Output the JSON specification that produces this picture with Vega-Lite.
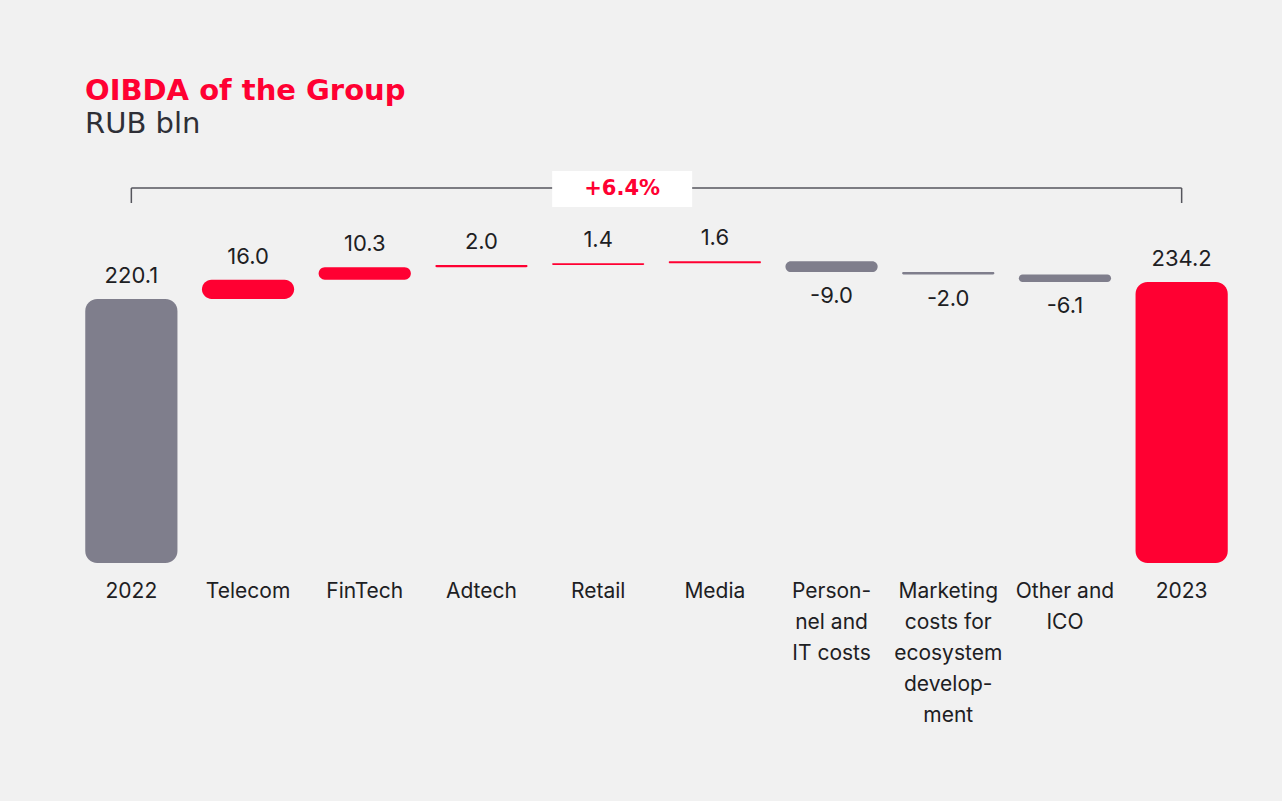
{
  "$schema": "https://vega.github.io/schema/vega-lite/v6.json",
  "autosize": "none",
  "width": 1167,
  "height": 408,
  "padding": {"left": 73, "top": 155, "right": 42, "bottom": 238},
  "background": "#f1f1f1",
  "config": {
    "view": {"stroke": null},
    "font": "Inter",
    "text": {"font": "Inter"}
  },
  "title": {
    "text": "OIBDA of the Group",
    "subtitle": "RUB bln",
    "anchor": "start",
    "frame": "group",
    "dx": 12,
    "offset": 16,
    "font": "DejaVu Sans",
    "fontSize": 29,
    "fontWeight": "bold",
    "color": "#ff0032",
    "subtitleFont": "DejaVu Sans",
    "subtitleFontSize": 29,
    "subtitleFontWeight": "normal",
    "subtitleColor": "#2e2f36",
    "subtitlePadding": 4
  },
  "data": {
    "values": [
      {"category": "2022", "start": 0, "end": 220.1, "label": "220.1", "kind": "start"},
      {"category": "Telecom", "start": 220.1, "end": 236.1, "label": "16.0", "kind": "increase"},
      {"category": "FinTech", "start": 236.1, "end": 246.4, "label": "10.3", "kind": "increase"},
      {"category": "Adtech", "start": 246.4, "end": 248.4, "label": "2.0", "kind": "increase"},
      {"category": "Retail", "start": 248.4, "end": 249.8, "label": "1.4", "kind": "increase"},
      {"category": "Media", "start": 249.8, "end": 251.4, "label": "1.6", "kind": "increase"},
      {"category": "Person-|nel and|IT costs", "start": 251.4, "end": 242.4, "label": "-9.0", "kind": "decrease"},
      {"category": "Marketing|costs for|ecosystem|develop-|ment", "start": 242.4, "end": 240.4, "label": "-2.0", "kind": "decrease"},
      {"category": "Other and|ICO", "start": 240.4, "end": 234.2, "label": "-6.1", "kind": "decrease"},
      {"category": "2023", "start": 0, "end": 234.2, "label": "234.2", "kind": "end"}
    ]
  },
  "encoding": {
    "x": {
      "field": "category",
      "type": "nominal",
      "sort": null,
      "scale": {"paddingInner": 0.21, "paddingOuter": 0.105},
      "axis": {
        "title": null,
        "domain": false,
        "ticks": false,
        "labelAngle": 0,
        "labelFont": "Inter",
        "labelFontSize": 21,
        "labelColor": "#1d2023",
        "labelLineHeight": 31,
        "labelPadding": 17,
        "labelExpr": "split(datum.value, '|')",
        "grid": false
      }
    }
  },
  "layer": [
    {
      "mark": {"type": "bar", "cornerRadius": 12},
      "encoding": {
        "y": {"field": "start", "type": "quantitative", "scale": {"domain": [0, 340], "nice": false}, "axis": null},
        "y2": {"field": "end"},
        "color": {
          "field": "kind",
          "type": "nominal",
          "scale": {"domain": ["start", "increase", "decrease", "end"], "range": ["#7f7e8c", "#ff0032", "#7f7e8c", "#ff0032"]},
          "legend": null
        }
      }
    },
    {
      "transform": [{"filter": "datum.kind != 'decrease'"}],
      "mark": {"type": "text", "baseline": "middle", "dy": -23, "fontSize": 22, "color": "#1d2023", "font": "Inter"},
      "encoding": {
        "y": {"field": "end", "type": "quantitative"},
        "text": {"field": "label"}
      }
    },
    {
      "transform": [{"filter": "datum.kind == 'decrease'"}],
      "mark": {"type": "text", "baseline": "middle", "dy": 24, "fontSize": 22, "color": "#1d2023", "font": "Inter"},
      "encoding": {
        "y": {"field": "end", "type": "quantitative"},
        "text": {"field": "label"}
      }
    },
    {
      "data": {"values": [{"from": "2022", "to": "2023", "change": "+6.4%", "at": "Retail"}]},
      "layer": [
        {
          "mark": {"type": "rule", "stroke": "#55555c", "strokeWidth": 1.5},
          "encoding": {
            "x": {"field": "from", "type": "nominal"},
            "x2": {"field": "to"},
            "y": {"datum": 312.5, "type": "quantitative"}
          }
        },
        {
          "mark": {"type": "rule", "stroke": "#55555c", "strokeWidth": 1.5},
          "encoding": {
            "x": {"field": "from", "type": "nominal"},
            "y": {"datum": 312.5, "type": "quantitative"},
            "y2": {"datum": 300}
          }
        },
        {
          "mark": {"type": "rule", "stroke": "#55555c", "strokeWidth": 1.5},
          "encoding": {
            "x": {"field": "to", "type": "nominal"},
            "y": {"datum": 312.5, "type": "quantitative"},
            "y2": {"datum": 300}
          }
        },
        {
          "mark": {"type": "bar", "color": "#ffffff", "width": 140, "xOffset": 24},
          "encoding": {
            "x": {"field": "at", "type": "nominal"},
            "y": {"datum": 296.7, "type": "quantitative"},
            "y2": {"datum": 326.7}
          }
        },
        {
          "mark": {"type": "text", "baseline": "middle", "dx": 24, "fontSize": 21, "fontWeight": "bold", "color": "#ff0032", "font": "DejaVu Sans"},
          "encoding": {
            "x": {"field": "at", "type": "nominal"},
            "y": {"datum": 312, "type": "quantitative"},
            "text": {"field": "change"}
          }
        }
      ]
    }
  ]
}
